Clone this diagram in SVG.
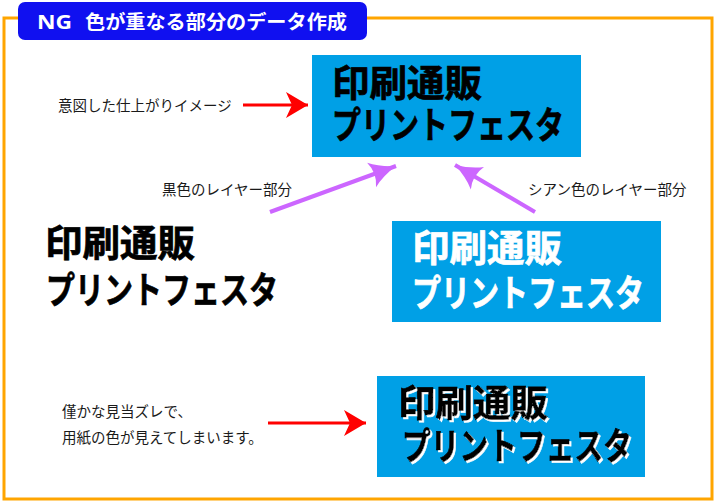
<svg xmlns="http://www.w3.org/2000/svg" width="715" height="503" viewBox="0 0 715 503">
<defs>
<style>
.lbl{font-family:"Noto Sans CJK JP","Noto Sans",sans-serif;font-size:14.5px;fill:#1a1a1a}
.big{font-family:"Noto Sans CJK JP","Noto Sans",sans-serif;font-size:37px;font-weight:bold;stroke-width:0.7}
.blk{fill:#000;stroke:#000}
.wht{fill:#fff;stroke:#fff}
.box{fill:#00A0E6}
.red{stroke:#F00;stroke-width:3;fill:none}
.vio{stroke:#CC66FF;stroke-width:4;fill:none}
</style>
<filter id="mis" x="-5%" y="-20%" width="115%" height="150%">
<feOffset in="SourceAlpha" dx="2" dy="2" result="o"/>
<feFlood flood-color="#fff"/>
<feComposite in2="o" operator="in" result="w"/>
<feMerge><feMergeNode in="w"/><feMergeNode in="SourceGraphic"/></feMerge>
</filter>
<marker id="ar" markerUnits="userSpaceOnUse" markerWidth="24" markerHeight="26" refX="22" refY="13" orient="auto">
<path d="M0,0 L22,13 L0,26 L6,13 Z" fill="#F00"/>
</marker>
<marker id="av" markerUnits="userSpaceOnUse" markerWidth="30" markerHeight="30" refX="26" refY="15" orient="auto">
<path d="M0,2 Q10,10 26,15 Q10,20 0,28 Q6,15 0,2 Z" fill="#CC66FF"/>
</marker>
</defs>
<rect x="4" y="18" width="708" height="481" fill="none" stroke="#FFA500" stroke-width="3"/>
<g id="title">
<rect x="18" y="2" width="349" height="38" rx="7" fill="#1010F0"/>
<text x="37" y="29" font-family="'Noto Sans','Noto Sans CJK JP',sans-serif" font-size="19" font-weight="bold" fill="#fff" textLength="35" lengthAdjust="spacingAndGlyphs">NG</text>
<text x="85" y="29" font-family="'Noto Sans CJK JP','Noto Sans',sans-serif" font-size="19" font-weight="bold" fill="#fff" textLength="262" lengthAdjust="spacingAndGlyphs">色が重なる部分のデータ作成</text>
</g>
<g id="intended">
<rect class="box" x="312" y="55" width="269" height="102"/>
<text class="big blk" x="332" y="97" textLength="150" lengthAdjust="spacingAndGlyphs">印刷通販</text>
<text class="big blk" x="332" y="139" textLength="232" lengthAdjust="spacingAndGlyphs">プリントフェスタ</text>
</g>
<g id="black-layer">
<text class="big blk" x="45" y="257" textLength="150" lengthAdjust="spacingAndGlyphs">印刷通販</text>
<text class="big blk" x="46" y="304" textLength="232" lengthAdjust="spacingAndGlyphs">プリントフェスタ</text>
</g>
<g id="cyan-layer">
<rect class="box" x="392" y="221" width="269" height="101"/>
<text class="big wht" x="412" y="262" textLength="150" lengthAdjust="spacingAndGlyphs">印刷通販</text>
<text class="big wht" x="412" y="307" textLength="232" lengthAdjust="spacingAndGlyphs">プリントフェスタ</text>
</g>
<g id="misregistered">
<rect class="box" x="377" y="376" width="268" height="101"/>
<text class="big blk" x="398" y="417" filter="url(#mis)" textLength="150" lengthAdjust="spacingAndGlyphs">印刷通販</text>
<text class="big blk" x="402" y="460" filter="url(#mis)" textLength="230" lengthAdjust="spacingAndGlyphs">プリントフェスタ</text>
</g>
<g id="labels">
<text class="lbl" x="58" y="111">意図した仕上がりイメージ</text>
<text class="lbl" x="162" y="195">黒色のレイヤー部分</text>
<text class="lbl" x="528" y="195">シアン色のレイヤー部分</text>
<text class="lbl" x="62" y="417">僅かな見当ズレで、</text>
<text class="lbl" x="62" y="443">用紙の色が見えてしまいます。</text>
</g>
<g id="connectors">
<line class="red" x1="243" y1="105" x2="308" y2="105" marker-end="url(#ar)"/>
<line class="red" x1="268" y1="423" x2="366" y2="423" marker-end="url(#ar)"/>
<line class="vio" x1="270" y1="212" x2="396" y2="166" marker-end="url(#av)"/>
<line class="vio" x1="535" y1="212" x2="455" y2="165" marker-end="url(#av)"/>
</g>
</svg>
